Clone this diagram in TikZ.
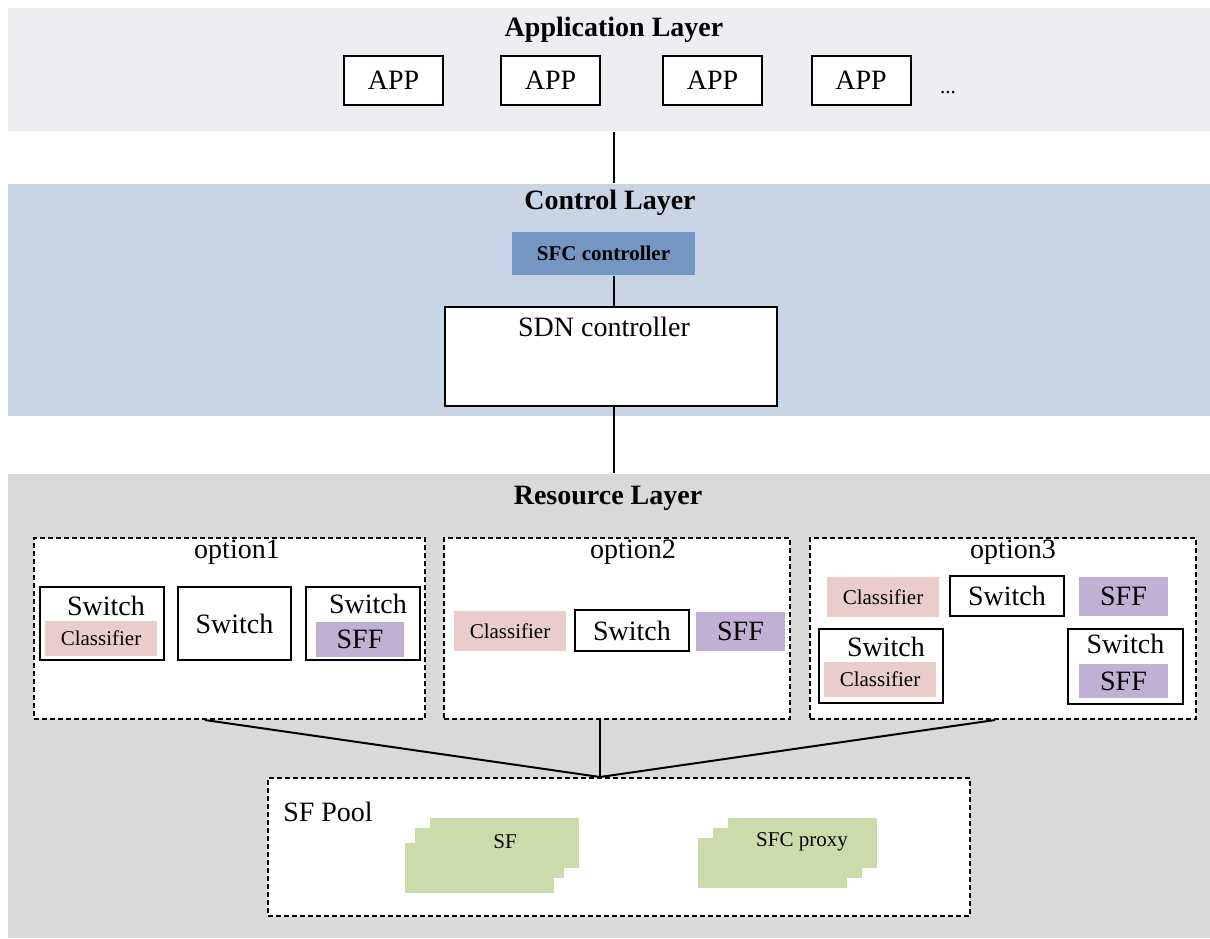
\documentclass[tikz,border=0pt]{standalone}
\usepackage{fontspec}
\setmainfont{Liberation Serif}
\definecolor{appbg}{HTML}{EFEDF2}
\definecolor{ctrlbg}{HTML}{C8D5E5}
\definecolor{resbg}{HTML}{D9D9D9}
\definecolor{sfcbg}{HTML}{7396C3}
\definecolor{clsbg}{HTML}{EACCCB}
\definecolor{sffbg}{HTML}{C0B0D3}
\definecolor{sfbg}{HTML}{CCDBAA}

\tikzset{sfcBand/.style={rectangle,inner sep=0,draw=none},
 sfcBox/.style={draw,rectangle,line width=1pt,fill=white,inner sep=0,font=\fontsize{14}{16}\selectfont},
 sfcDash/.style={draw,rectangle,line width=1pt,dash pattern=on 2.5pt off 1.5pt,fill=white,inner sep=0},
 sfcCls/.style={rectangle,fill=clsbg,inner sep=0,font=\fontsize{10.5}{12}\selectfont},
 sfcSff/.style={rectangle,fill=sffbg,inner sep=0,font=\fontsize{14}{16}\selectfont},
 sfcSF/.style={rectangle,fill=sfbg,inner sep=0,minimum width=74.5pt,minimum height=25pt},
 sfcTitle/.style={font=\fontsize{14}{16}\selectfont\bfseries,inner sep=0},
 sfcText/.style={font=\fontsize{14}{16}\selectfont,inner sep=0},
 sfcSmall/.style={font=\fontsize{10.5}{12}\selectfont,inner sep=0}}

\begin{document}
\begin{tikzpicture}[x=0.5pt,y=-0.5pt,line width=1pt]
\useasboundingbox (0,0) rectangle (1210,938);
% layers
\node[sfcBand,fill=appbg,minimum width=601pt,minimum height=61.5pt] (applayer) at (609,69.5) {};
\node[sfcBand,fill=ctrlbg,minimum width=601pt,minimum height=116pt] (ctrllayer) at (609,300) {};
\node[sfcBand,fill=resbg,minimum width=601pt,minimum height=232pt] (reslayer) at (609,706) {};
\node[sfcTitle] (apptitle) at (614,30) {Application Layer};
\node[sfcTitle] (ctrltitle) at (610,203) {Control Layer};
\node[sfcTitle] (restitle) at (608,498) {Resource Layer};
\coordinate (trunk) at (614,0);

% application layer
\foreach \n/\xx in {1/393.5,2/550.5,3/712.5,4/861}{
\node[sfcBox,minimum width=49.5pt,minimum height=24.5pt] (app\n) at (\xx,80.5) {APP};}
\node[sfcSmall] (dots) at (948,93) {...};

% control layer
\node[rectangle,fill=sfcbg,inner sep=0,minimum width=91.5pt,minimum height=21.5pt,
 font=\fontsize{10.5}{12}\selectfont\bfseries] (sfc) at (603.5,253.5) {SFC controller};
\node[sfcBox,minimum width=166pt,minimum height=49.5pt] (sdn) at (611,356.5) {};
\node[sfcText] (sdntext) at (604,327) {SDN controller};
\draw (applayer.south -| trunk) -- (ctrllayer.north -| trunk);
\draw (sfc.south -| trunk) -- (sdn.north -| trunk);
\draw (sdn.south -| trunk) -- (reslayer.north -| trunk);

% resource layer: option1
\node[sfcDash,minimum width=195.5pt,minimum height=90.5pt] (opt1) at (229.5,628.5) {};
\node[sfcText] at (237,552) {option1};
\node[sfcBox,minimum width=62pt,minimum height=36.5pt] (s11) at (102,623.5) {};
\node[sfcText] at (106,606) {Switch};
\node[sfcCls,minimum width=56pt,minimum height=17.5pt] (cls11) at (101,638.5) {Classifier};
\node[sfcBox,minimum width=56.5pt,minimum height=36.5pt] (s12) at (234.5,623.5) {Switch};
\node[sfcBox,minimum width=57pt,minimum height=36.5pt] (s13) at (363,623.5) {};
\node[sfcText] at (368,604) {Switch};
\node[sfcSff,minimum width=44pt,minimum height=17.5pt] (sff13) at (360,639.5) {SFF};

% option2
\node[sfcDash,minimum width=173pt,minimum height=90.5pt] (opt2) at (617,628.5) {};
\node[sfcText] at (633,552) {option2};
\node[sfcCls,minimum width=56pt,minimum height=20pt] (cls21) at (510,631) {Classifier};
\node[sfcBox,minimum width=57pt,minimum height=20.5pt] (s21) at (632,630.5) {Switch};
\node[sfcSff,minimum width=44.5pt,minimum height=19.5pt] (sff21) at (740.5,631.5) {SFF};

% option3
\node[sfcDash,minimum width=193pt,minimum height=90.5pt] (opt3) at (1003,628.5) {};
\node[sfcText] at (1013,552) {option3};
\node[sfcCls,minimum width=56pt,minimum height=20pt] (cls31) at (883,597) {Classifier};
\node[sfcBox,minimum width=57pt,minimum height=20pt] (s31) at (1007,596) {Switch};
\node[sfcSff,minimum width=44.5pt,minimum height=19.5pt] (sff31) at (1123.5,596.5) {SFF};
\node[sfcBox,minimum width=62pt,minimum height=37pt] (s32) at (881,666) {};
\node[sfcText] at (886,647) {Switch};
\node[sfcCls,minimum width=56pt,minimum height=17.5pt] (cls32) at (880,679.5) {Classifier};
\node[sfcBox,minimum width=57.5pt,minimum height=37.5pt] (s33) at (1125.5,666.5) {};
\node[sfcText] at (1125.5,644) {Switch};
\node[sfcSff,minimum width=44.5pt,minimum height=17pt] (sff33) at (1123.5,681) {SFF};

% SF pool
\node[sfcDash,minimum width=351pt,minimum height=69pt] (pool) at (619,847) {};
\node[sfcText] at (328,812) {SF Pool};
\foreach \n/\xx/\yy in {1/504.5/843,2/489.5/853,3/479.5/868}{
\node[sfcSF] (sf\n) at (\xx,\yy) {};}
\foreach \n/\xx/\yy in {1/802.5/843,2/787.5/853,3/772.5/863}{
\node[sfcSF] (px\n) at (\xx,\yy) {};}
\node[sfcSmall] at (505,842) {SF};
\node[sfcSmall] at (802,842) {SFC proxy};

\coordinate (hub) at ([xshift=-9.5pt]pool.north);
\draw ([xshift=-12.25pt]opt1.south) -- (hub);
\draw ([xshift=-8.5pt]opt2.south) -- (hub);
\draw ([xshift=-4pt]opt3.south) -- (hub);
\end{tikzpicture}
\end{document}
